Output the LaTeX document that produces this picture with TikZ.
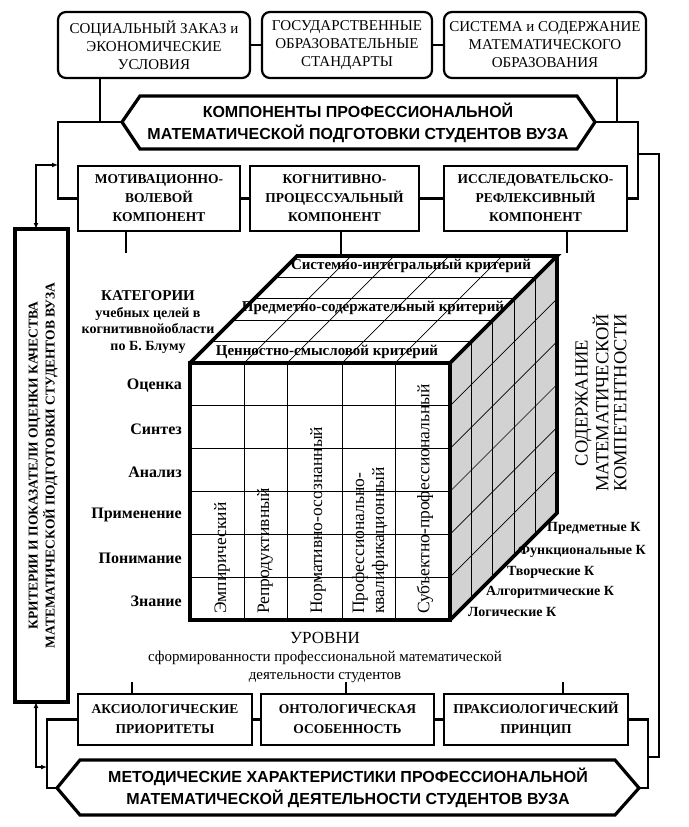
\documentclass[tikz,border=0pt]{standalone}
\usepackage{fontspec}
\setmainfont{Liberation Serif}
\newfontfamily\hexfont{Liberation Sans}
\usetikzlibrary{arrows.meta}
\tikzset{
  conn/.style={line width=2.2pt},
  dbl/.style={line width=1.8pt,{Latex[length=6pt,width=5pt]}-{Latex[length=6pt,width=5pt]}},
  topbox/.style={draw,line width=2.2pt,rounded corners=8pt,minimum height=66pt,align=center,inner sep=0pt,font=\fontsize{15}{18}\selectfont},
  midbox/.style={draw,line width=2.2pt,minimum height=65pt,align=center,inner sep=0pt,font=\bfseries\fontsize{13.5}{19}\selectfont},
  botbox/.style={draw,line width=2.2pt,minimum height=51pt,align=center,inner sep=0pt,font=\bfseries\fontsize{13.5}{20}\selectfont},
  hexline/.style={line width=3.2pt,line join=miter},
  hextext/.style={align=center,font=\hexfont\bfseries\fontsize{16}{22}\selectfont,inner sep=0pt},
  cubeline/.style={line width=3.8pt,line join=miter},
  grid/.style={line width=0.7pt},
  toplab/.style={font=\bfseries\fontsize{15}{17}\selectfont,inner sep=0pt},
  rowlab/.style={anchor=east,font=\bfseries\fontsize{16}{17}\selectfont,inner sep=0pt},
  collab/.style={rotate=90,anchor=west,align=left,font=\fontsize{17.5}{20}\selectfont,inner sep=0pt},
  sidelab/.style={anchor=west,font=\bfseries\fontsize{14}{16}\selectfont,inner sep=0pt}
}
\begin{document}
\begin{tikzpicture}[x=1pt,y=-1pt]
\useasboundingbox (0,0) rectangle (688,827);

% top boxes
\node[topbox,minimum width=192pt] (t1) at (154,45) {СОЦИАЛЬНЫЙ ЗАКАЗ и\\ЭКОНОМИЧЕСКИЕ\\УСЛОВИЯ};
\node[topbox,minimum width=170pt] (t2) at (347,45) {ГОСУДАРСТВЕННЫЕ\\ОБРАЗОВАТЕЛЬНЫЕ\\СТАНДАРТЫ};
\node[topbox,minimum width=202pt] (t3) at (545,45) {СИСТЕМА и СОДЕРЖАНИЕ\\МАТЕМАТИЧЕСКОГО\\ОБРАЗОВАНИЯ};
\draw[conn] (t1.east) -- (t2.west);
\draw[conn] (t2.east) -- (t3.west);

% hex 1
\coordinate (h1w) at (122,122);
\coordinate (h1e) at (595,122);
\draw[hexline] (h1w) -- (140,96) -- (577,96) -- (h1e) -- (577,149) -- (140,149) -- cycle;
\node[hextext] (h1) at (358,123) {КОМПОНЕНТЫ ПРОФЕССИОНАЛЬНОЙ\\МАТЕМАТИЧЕСКОЙ ПОДГОТОВКИ СТУДЕНТОВ ВУЗА};

% middle boxes
\node[midbox,minimum width=162pt] (m1) at (159,198.5) {МОТИВАЦИОННО-\\ВОЛЕВОЙ\\КОМПОНЕНТ};
\node[midbox,minimum width=169pt] (m2) at (334.5,198.5) {КОГНИТИВНО-\\ПРОЦЕССУАЛЬНЫЙ\\КОМПОНЕНТ};
\node[midbox,minimum width=183pt] (m3) at (535.5,198.5) {ИССЛЕДОВАТЕЛЬСКО-\\РЕФЛЕКСИВНЫЙ\\КОМПОНЕНТ};
\draw[conn] (m1.east) -- (m2.west);
\draw[conn] (m2.east) -- (m3.west);

% frame around middle
\coordinate (fl1) at (100,78);
\coordinate (fr1) at (617,78);
\draw[conn] (fl1) -- (100,122);
\draw[conn] (fr1) -- (617,122);
\draw[conn] (h1w) -- (58,122) -- (58,198.5) -- (m1.west);
\draw[conn] (h1e) -- (638,122) -- (638,198.5) -- (m3.east);
\coordinate (o1) at (638,154);
\coordinate (o2) at (648,757);
\draw[conn] (o1) -- (659,154) -- (659,757) -- (o2);

% ticks below middle boxes
\draw[conn] (126,231) -- (126,253);
\draw[conn] (341,231) -- (341,256);
\draw[conn] (567,231) -- (567,253);

% tall box
\node[draw,line width=3.5pt,minimum width=53pt,minimum height=473pt,inner sep=0pt] (tb) at (41.5,465.5) {};
\node[rotate=90,align=center,font=\bfseries\fontsize{13.5}{17}\selectfont] (tbt) at (43,465.5) {КРИТЕРИИ И ПОКАЗАТЕЛИ ОЦЕНКИ КАЧЕСТВА\\МАТЕМАТИЧЕСКОЙ ПОДГОТОВКИ СТУДЕНТОВ ВУЗА};
\coordinate (a1) at (58,165);
\draw[dbl] (a1) -- (36,165) -- (36,229);
\coordinate (a2) at (47,767);
\draw[dbl] (36,702) -- (36,767) -- (a2);

% cube
\fill[gray!35] (450,363) -- (557,256) -- (557,513) -- (450,620) -- cycle;
\foreach \k in {1,2,3,4}{
  \draw[grid] ({190+21.4*\k},{363-21.4*\k}) -- ({450+21.4*\k},{363-21.4*\k});
  \draw[grid] ({450+21.4*\k},{363-21.4*\k}) -- ({450+21.4*\k},{620-21.4*\k});
}
\foreach \c in {244,287,342,395}{
  \draw[grid] (\c,363) -- (\c,620);
  \draw[grid] (\c,363) -- ({\c+107},256);
}
\foreach \r in {1,2,3,4,5}{
  \draw[grid] (190,{363+42.83*\r}) -- (450,{363+42.83*\r});
  \draw[grid] (450,{363+42.83*\r}) -- (557,{256+42.83*\r});
}
\draw[cubeline] (190,363) rectangle (450,620);
\draw[cubeline] (190,363) -- (297,256) -- (557,256) -- (450,363);
\draw[cubeline] (557,256) -- (557,513) -- (450,620);

\node[toplab] (c1) at (411,266) {Системно-интегральный критерий};
\node[toplab] (c2) at (373,308) {Предметно-содержательный критерий};
\node[toplab] (c3) at (327,352) {Ценностно-смысловой критерий};

% left labels
\node[align=center,font=\bfseries\fontsize{14}{16.5}\selectfont,inner sep=0pt] (kat) at (148,322)
  {{\fontsize{15}{16.5}\selectfont КАТЕГОРИИ}\\учебных целей в\\когнитивнойобласти\\по Б. Блуму};
\node[rowlab] (r1) at (182,386) {Оценка};
\node[rowlab] (r2) at (182,429) {Синтез};
\node[rowlab] (r3) at (182,472) {Анализ};
\node[rowlab] (r4) at (182,515) {Применение};
\node[rowlab] (r5) at (182,558) {Понимание};
\node[rowlab] (r6) at (182,601) {Знание};

% column labels
\node[collab] (l1) at (222,614) {Эмпирический};
\node[collab] (l2) at (265,614) {Репродуктивный};
\node[collab] (l3) at (318,614) {Нормативно-осознанный};
\node[collab] (l4) at (370,614) {Профессионально-\\квалификационный};
\node[collab] (l5) at (425,614) {Субъектно-профессиональный};

% right labels
\node[rotate=90,align=center,font=\fontsize{18.5}{18}\selectfont,inner sep=0pt] (sod) at (601,403) {СОДЕРЖАНИЕ\\МАТЕМАТИЧЕСКОЙ\\КОМПЕТЕНТНОСТИ};
\node[sidelab] (k1) at (547,528) {Предметные К};
\node[sidelab] (k2) at (518,551) {Функциональные К};
\node[sidelab] (k3) at (507,572) {Творческие К};
\node[sidelab] (k4) at (486,592) {Алгоритмические К};
\node[sidelab] (k5) at (468,612) {Логические К};

% levels text
\node[align=center,inner sep=0pt,font=\fontsize{15}{18}\selectfont] (lev) at (325,657)
  {{\fontsize{17}{18}\selectfont УРОВНИ}\\сформированности профессиональной математической\\деятельности студентов};

% bottom boxes
\node[botbox,minimum width=174pt] (b1) at (165,719.5) {АКСИОЛОГИЧЕСКИЕ\\ПРИОРИТЕТЫ};
\node[botbox,minimum width=173pt] (b2) at (347.5,719.5) {ОНТОЛОГИЧЕСКАЯ\\ОСОБЕННОСТЬ};
\node[botbox,minimum width=184pt] (b3) at (536,719.5) {ПРАКСИОЛОГИЧЕСКИЙ\\ПРИНЦИП};
\draw[conn] (b1.east) -- (b2.west);
\draw[conn] (b2.east) -- (b3.west);
\draw[conn] (132,682) -- (132,694);
\draw[conn] (346,682) -- (346,694);
\draw[conn] (563,682) -- (563,694);

% hex 2
\coordinate (h2w) at (57,788);
\coordinate (h2e) at (639,788);
\draw[hexline] (h2w) -- (80,760) -- (615,760) -- (h2e) -- (615,815) -- (80,815) -- cycle;
\node[hextext] (h2) at (348,788) {МЕТОДИЧЕСКИЕ ХАРАКТЕРИСТИКИ ПРОФЕССИОНАЛЬНОЙ\\МАТЕМАТИЧЕСКОЙ ДЕЯТЕЛЬНОСТИ СТУДЕНТОВ ВУЗА};

\draw[conn] (b1.west) -- (47,719.5) -- (47,788) -- (h2w);
\draw[conn] (b3.east) -- (648,719.5) -- (648,788) -- (h2e);
\end{tikzpicture}
\end{document}
